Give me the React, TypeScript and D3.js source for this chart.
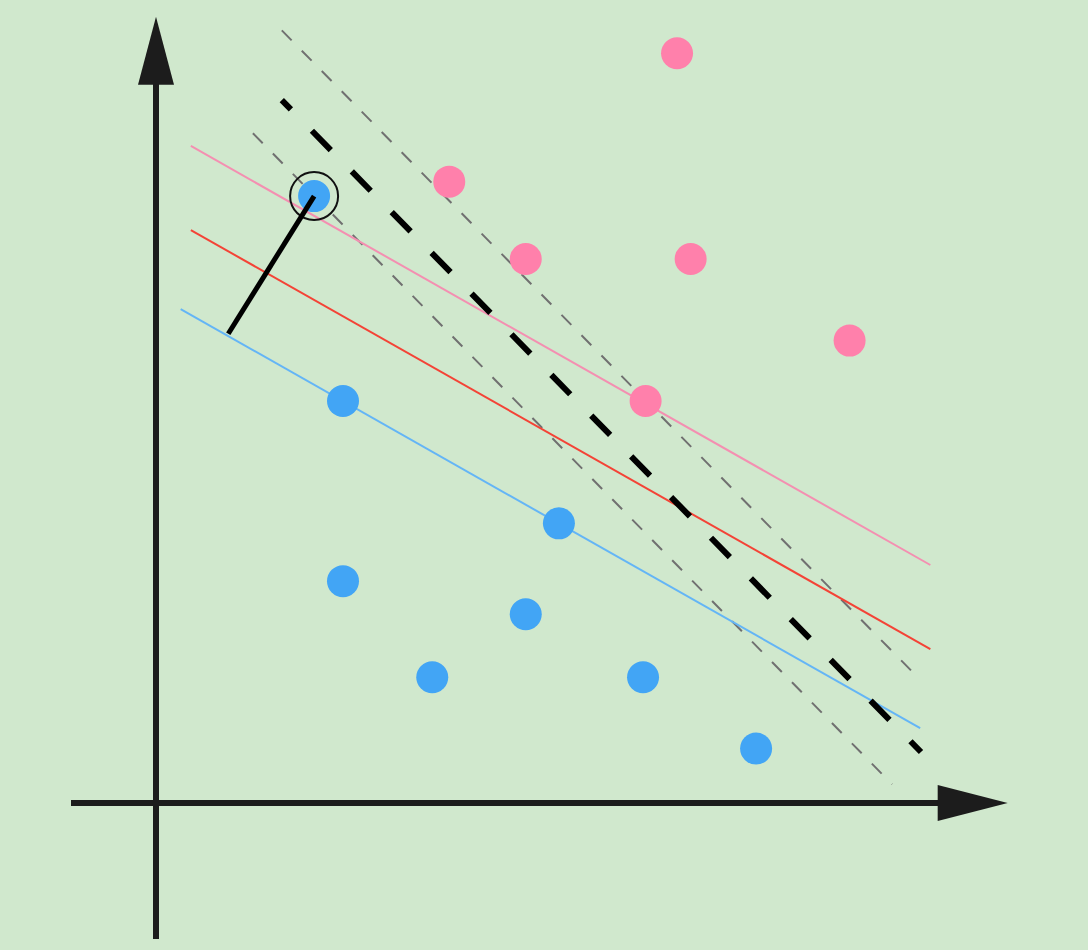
import React from 'react';
import * as d3 from 'd3';

// class -1 (blue) and class +1 (pink) samples
const bluePoints = [
  [1.86, 7.14], [2.2, 4.73], [4.74, 3.29], [2.2, 2.61],
  [4.35, 2.22], [3.25, 1.48], [5.73, 1.48], [7.06, 0.64],
];
const pinkPoints = [
  [6.13, 8.82], [3.45, 7.31], [4.35, 6.4], [6.29, 6.4],
  [8.16, 5.44], [5.76, 4.73],
];

// the outlier that gets circled
const outlier = [1.86, 7.14];
// foot of its distance to the blue margin
const outlierFoot = [0.85, 5.52];

// separating lines: [x1, y1, x2, y2]
const pinkMargin = [0.41, 7.73, 9.11, 2.8];
const redBoundary = [0.41, 6.74, 9.11, 1.81];
const blueMargin = [0.29, 5.81, 8.99, 0.88];
const blackBoundary = [1.48, 8.27, 9.0, 0.6];
const grayUpper = [1.48, 9.09, 8.99, 1.45];
const grayLower = [1.14, 7.88, 8.66, 0.22];

// axis extents
const xAxisRange = [-1, 10.02];
const yAxisRange = [-1.6, 9.25];

const W = 1088;
const H = 950;

export default function App() {
  const x = d3.scaleLinear().domain([0, 10]).range([156, 1006]);
  const y = d3.scaleLinear().domain([0, 10]).range([803, -47]);

  const seg = (l: number[], stroke: string, width: number, dash?: string, offset?: number) => (
    <line
      x1={x(l[0])}
      y1={y(l[1])}
      x2={x(l[2])}
      y2={y(l[3])}
      stroke={stroke}
      strokeWidth={width}
      strokeDasharray={dash}
      strokeDashoffset={offset}
    />
  );

  const ax = '#1c1c1c';
  const x0 = x(0);
  const y0 = y(0);
  const xTip = x(xAxisRange[1]);
  const yTip = y(yAxisRange[1]);

  return (
    <svg
      width={W}
      height={H}
      style={{ position: 'absolute', left: 0, top: 0, display: 'block' }}
    >
      <rect width={W} height={H} fill="#d0e8cd" />

      {seg(grayUpper, '#707070', 2, '14 14.5')}
      {seg(grayLower, '#707070', 2, '14 14.5')}
      {seg(pinkMargin, '#f48fb1', 2)}
      {seg(redBoundary, '#f44336', 2)}
      {seg(blueMargin, '#64b5f6', 2)}
      {seg(blackBoundary, '#000', 6, '27 30', 14)}

      {bluePoints.map((p, i) => (
        <circle key={'b' + i} cx={x(p[0])} cy={y(p[1])} r={16} fill="#42a5f5" />
      ))}
      {pinkPoints.map((p, i) => (
        <circle key={'p' + i} cx={x(p[0])} cy={y(p[1])} r={16} fill="#ff80ab" />
      ))}

      <circle cx={x(outlier[0])} cy={y(outlier[1])} r={24} fill="none" stroke="#111" strokeWidth={2} />
      <line
        x1={x(outlier[0])}
        y1={y(outlier[1])}
        x2={x(outlierFoot[0])}
        y2={y(outlierFoot[1])}
        stroke="#000"
        strokeWidth={5}
      />

      {/* axes */}
      <line x1={x(xAxisRange[0])} y1={y0} x2={xTip - 60} y2={y0} stroke={ax} strokeWidth={6} />
      <line x1={x0} y1={y(yAxisRange[0])} x2={x0} y2={yTip + 60} stroke={ax} strokeWidth={6} />
      <path d={`M${xTip},${y0} L${xTip - 70},${y0 - 18} L${xTip - 70},${y0 + 18} Z`} fill={ax} />
      <path d={`M${x0},${yTip} L${x0 - 18},${yTip + 68} L${x0 + 18},${yTip + 68} Z`} fill={ax} />
    </svg>
  );
}
